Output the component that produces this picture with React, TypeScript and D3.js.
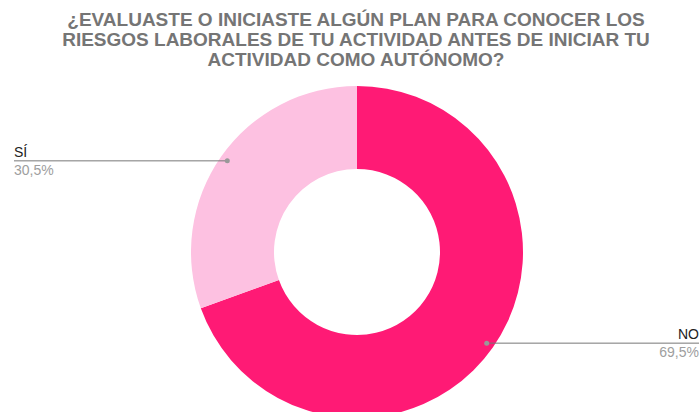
import React from "react";
import * as d3 from "d3";

const categories = ["NO", "SÍ"];
const values = [69.5, 30.5];
const valueLabels = ["69,5%", "30,5%"];
const colors = ["#ff1a75", "#fdc1e1"];
const titleLines = [
  "¿EVALUASTE O INICIASTE ALGÚN PLAN PARA CONOCER LOS",
  "RIESGOS LABORALES DE TU ACTIVIDAD ANTES DE INICIAR TU",
  "ACTIVIDAD COMO AUTÓNOMO?",
];

const W = 700;
const H = 412;
const cx = 357;
const cy = 252;
const R = 166;
const r = 83;

export default function App() {
  const pie = d3.pie<number>().sort(null).value((d) => d);
  const arcs = pie(values);
  const arc = d3.arc<d3.PieArcDatum<number>>().innerRadius(r).outerRadius(R);
  const dotR = R * 0.955;

  return (
    <svg width={W} height={H} style={{ position: "absolute", left: 0, top: 0, fontFamily: "'Liberation Sans', Arial, sans-serif" }}>
      <rect width={W} height={H} fill="#fff" />
      {titleLines.map((t, i) => (
        <text key={i} x={356} y={25.7 + i * 20} textAnchor="middle" fontSize={19} fontWeight="bold" fill="#757575">
          {t}
        </text>
      ))}
      <g transform={`translate(${cx},${cy})`}>
        {arcs.map((a, i) => (
          <path key={i} d={arc(a) || ""} fill={colors[i]} />
        ))}
      </g>
      {arcs.map((a, i) => {
        const mid = (a.startAngle + a.endAngle) / 2;
        const px = cx + Math.sin(mid) * dotR;
        const py = cy - Math.cos(mid) * dotR;
        const left = px < cx;
        const lineY = py;
        const xEnd = left ? 14 : 699;
        return (
          <g key={"l" + i}>
            <line x1={px} y1={lineY} x2={xEnd} y2={lineY} stroke="#777" strokeWidth={1} />
            <circle cx={px} cy={lineY} r={2.5} fill="#999" />
            <text x={xEnd} y={lineY - 4} textAnchor={left ? "start" : "end"} fontSize={14} fill="#222">
              {categories[i]}
            </text>
            <text x={xEnd} y={lineY + 14} textAnchor={left ? "start" : "end"} fontSize={14} fill="#9e9e9e">
              {valueLabels[i]}
            </text>
          </g>
        );
      })}
    </svg>
  );
}
